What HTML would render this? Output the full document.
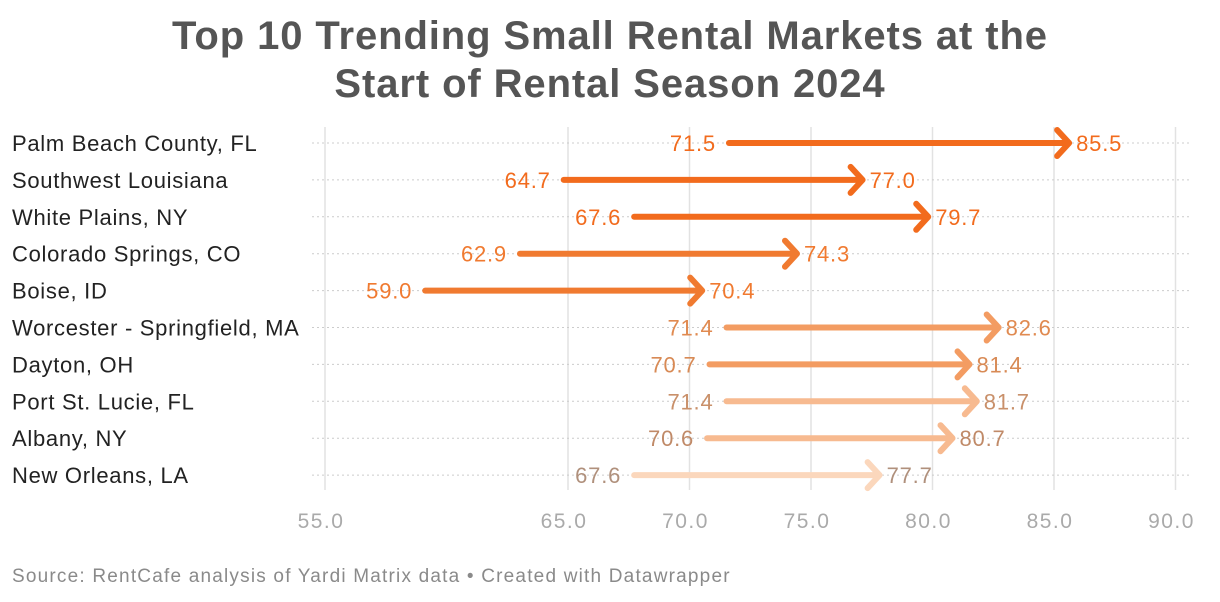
<!DOCTYPE html>
<html><head><meta charset="utf-8"><style>
body{margin:0;background:#fff;font-family:"Liberation Sans",sans-serif;}
#wrap{position:relative;width:1220px;height:602px;overflow:hidden;}
h1{position:absolute;left:0;top:12px;width:1220px;margin:0;text-align:center;font-size:40px;letter-spacing:0.9px;line-height:48px;color:#555;font-weight:bold;}
#src{position:absolute;left:12px;top:566px;font-size:19px;letter-spacing:1.2px;color:#8a8a8a;}
</style></head><body>
<div id="wrap">
<h1>Top 10 Trending Small Rental Markets at the<br>Start of Rental Season 2024</h1>
<svg id="svg" width="1220" height="602" style="position:absolute;left:0;top:0"></svg>
<div id="src">Source: RentCafe analysis of Yardi Matrix data • Created with Datawrapper</div>
</div>
<script>
const categories=["Palm Beach County, FL","Southwest Louisiana","White Plains, NY","Colorado Springs, CO","Boise, ID","Worcester - Springfield, MA","Dayton, OH","Port St. Lucie, FL","Albany, NY","New Orleans, LA"];
const startValues=[71.5,64.7,67.6,62.9,59.0,71.4,70.7,71.4,70.6,67.6];
const endValues=[85.5,77.0,79.7,74.3,70.4,82.6,81.4,81.7,80.7,77.7];
const ticks=[55,65,70,75,80,85,90];
const colors=["#f26b1d","#f26b1d","#f26b1d","#f07a30","#f07a30","#f39c62","#f39c62","#f7ba90","#f7ba90","#fbd7bc"];
const textColors=["#f26b1d","#f26b1d","#f26b1d","#f07a30","#f07a30","#e08a50","#d88a55","#c9906a","#c08a68","#b0907c"];
const NS="http://www.w3.org/2000/svg";
const svg=document.getElementById('svg');
const x=v=>325+(v-55)*24.3;
const y=i=>143+i*36.9;
function el(t,a){const e=document.createElementNS(NS,t);for(const k in a)e.setAttribute(k,a[k]);svg.appendChild(e);return e;}
ticks.forEach(t=>{
  const l=el('line',{x1:x(t),x2:x(t),y1:127,y2:490,stroke:'#e2e2e2','stroke-width':1.5});
  
  
  const tx=el('text',{x:x(t)-4,y:528,'text-anchor':'middle','font-size':21,'letter-spacing':1.5,fill:'#aaa'});
  tx.textContent=t.toFixed(1);
  
  
});
categories.forEach((c,i)=>{
  const yy=y(i);
  const g=el('line',{x1:312,x2:1190,y1:yy,y2:yy,stroke:'#ccc','stroke-width':1,'stroke-dasharray':'2,3'});
  
  
  const lb=el('text',{x:12,y:yy+8,'font-size':22,'letter-spacing':0.7,fill:'#222'});
  lb.textContent=c;
  
  
  const xs=x(startValues[i]),xe=x(endValues[i])+3;
  const ln=el('line',{x1:xs+3,x2:xe-2,y1:yy,y2:yy,stroke:colors[i],'stroke-width':6,'stroke-linecap':'round'});
  
  
  const hd=el('polyline',{points:`${xe-12},${yy-13} ${xe},${yy} ${xe-12},${yy+13}`,fill:'none',stroke:colors[i],'stroke-width':6,'stroke-linecap':'round','stroke-linejoin':'round'});
  
  
  const s=el('text',{x:xs-10,y:yy+8,'text-anchor':'end','font-size':22,'letter-spacing':0.8,fill:textColors[i]});
  s.textContent=startValues[i].toFixed(1);
  
  
  const e=el('text',{x:xe+7,y:yy+8,'font-size':22,'letter-spacing':0.8,fill:textColors[i]});
  e.textContent=endValues[i].toFixed(1);
  
  
});
</script>
</body></html>
